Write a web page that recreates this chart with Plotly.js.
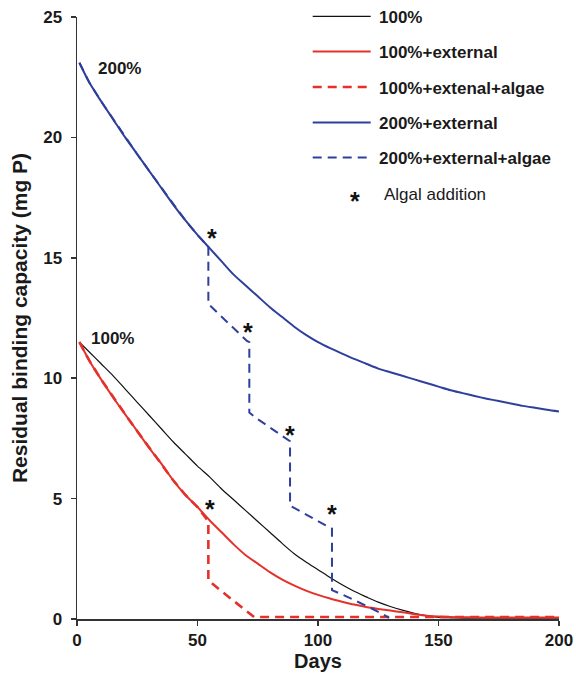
<!DOCTYPE html>
<html>
<head>
<meta charset="utf-8">
<script src="https://cdn.plot.ly/plotly-3.0.1.min.js"></script>
<style>html,body{margin:0;padding:0;background:#fff;}#chart{width:576px;height:676px;}</style>
</head>
<body>
<div id="chart"></div>
<script>
// ---- data ----
const dayGrid = [1,5,10,15,20,25,30,35,40,45,50,55,60,65,70,75,80,85,90,95,100,105,110,115,120,125,130,135,140,145,150,155,160,165,170,175,180,185,190,195,200];
const black100 = [11.5,11.1,10.6,10.1,9.55,9.0,8.45,7.9,7.35,6.85,6.35,5.9,5.4,4.95,4.5,4.05,3.6,3.15,2.72,2.37,2.05,1.72,1.42,1.15,0.92,0.7,0.52,0.37,0.24,0.14,0.07,0.05,0.04,0.04,0.04,0.04,0.04,0.04,0.04,0.04,0.04];
const red100ext = [11.5,10.75,9.95,9.2,8.5,7.8,7.1,6.45,5.75,5.15,4.65,4.1,3.6,3.1,2.65,2.3,1.95,1.65,1.4,1.18,1.0,0.85,0.72,0.6,0.5,0.42,0.35,0.28,0.2,0.14,0.1,0.08,0.07,0.07,0.06,0.06,0.06,0.06,0.06,0.06,0.06];
const blue200ext = [23.1,22.3,21.5,20.75,20.0,19.3,18.6,17.9,17.2,16.55,15.95,15.4,14.85,14.3,13.85,13.4,12.95,12.55,12.15,11.8,11.5,11.25,11.02,10.8,10.6,10.4,10.25,10.1,9.95,9.8,9.65,9.5,9.38,9.26,9.15,9.05,8.95,8.85,8.77,8.69,8.62];

const redAlgaeDays = [1,5,10,15,20,25,30,35,40,45,50,54.5,54.5,60,65,70,73.5,100,150,200];
const redAlgaeVals = [11.5,10.75,9.95,9.2,8.5,7.8,7.1,6.45,5.75,5.15,4.65,4.05,1.6,1.15,0.75,0.35,0.08,0.08,0.08,0.08];

const blueAlgaeDays = [1,5,10,15,20,25,30,35,40,45,50,54.5,54.5,60,65,70.5,71.5,71.5,75,80,85,88.4,88.4,93,98,103,105.8,105.8,110,115,120,125,129.5];
const blueAlgaeVals = [23.1,22.3,21.5,20.75,20.0,19.3,18.6,17.9,17.2,16.55,15.95,15.45,13.08,12.55,12.05,11.55,11.5,8.57,8.3,7.95,7.58,7.38,4.71,4.45,4.15,3.9,3.75,1.2,1.02,0.8,0.55,0.3,0.05];

const starDays = [55.9,70.8,88.4,105.7,55.2];
const starVals = [16.07,12.18,7.9,4.6,4.8];

const curveLabels = ['200%','100%'];
const curveLabelDays = [17.7,14.9];
const curveLabelVals = [22.88,11.66];

const legendNames = ['100%','100%+external','100%+extenal+algae','200%+external','200%+external+algae'];
const xTicks = [0,50,100,150,200];
const yTicks = [0,5,10,15,20,25];

// ---- styles ----
const FONT = 'Liberation Sans, Arial, Helvetica, sans-serif';
const BLUE = '#2e3f9c';
const RED = '#e4312b';
const styles = [
  {color:'#111111', width:1.2, dash:'solid'},
  {color:RED, width:2, dash:'solid'},
  {color:RED, width:2.6, dash:'9px,6px'},
  {color:BLUE, width:2, dash:'solid'},
  {color:BLUE, width:2, dash:'9px,6px'}
];

const traces = [
  {x:dayGrid, y:black100, name:legendNames[0], line:Object.assign({shape:'spline', smoothing:0.8}, styles[0])},
  {x:dayGrid, y:red100ext, name:legendNames[1], line:Object.assign({shape:'spline', smoothing:0.8}, styles[1])},
  {x:dayGrid, y:blue200ext, name:legendNames[3], line:Object.assign({shape:'spline', smoothing:0.8}, styles[3])},
  {x:redAlgaeDays, y:redAlgaeVals, name:legendNames[2], line:styles[2]},
  {x:blueAlgaeDays, y:blueAlgaeVals, name:legendNames[4], line:styles[4]}
].map(t => Object.assign({type:'scatter', mode:'lines', showlegend:false, hoverinfo:'skip'}, t));

// ---- geometry helpers for the hand-drawn legend (paper coords from pixels) ----
const W=576, H=676, ML=77.3, MR=16.7, MT=17.3, MB=57;
const px = v => (v-ML)/(W-ML-MR);
const py = v => (H-MB-v)/(H-MT-MB);

const annotations = [];
const shapes = [];
starDays.forEach((d,i) => annotations.push({x:d, y:starVals[i], xref:'x', yref:'y', text:'*', showarrow:false,
  font:{family:FONT, size:25, color:'#111', weight:'bold'}, xanchor:'center', yanchor:'middle', yshift:-6}));
curveLabels.forEach((t,i) => annotations.push({x:curveLabelDays[i], y:curveLabelVals[i], xref:'x', yref:'y', text:t, showarrow:false,
  font:{family:FONT, size:17, color:'#1a1a1a', weight:'bold'}, xanchor:'center', yanchor:'middle'}));

const rowY = [16.7, 51.7, 87.3, 122.7, 157.7];
const legendOrder = [0,1,2,3,4];
legendOrder.forEach((k,i) => {
  shapes.push({type:'line', xref:'paper', yref:'paper', x0:px(313), x1:px(371), y0:py(rowY[i]), y1:py(rowY[i]),
    line:{color:styles[k].color, width:styles[k].width, dash:styles[k].dash}});
  annotations.push({xref:'paper', yref:'paper', x:px(377), y:py(rowY[i]+1), text:legendNames[k], showarrow:false,
    xanchor:'left', yanchor:'middle', font:{family:FONT, size:17, color:'#1a1a1a', weight:'bold'}});
});
annotations.push({xref:'paper', yref:'paper', x:px(355), y:py(195), text:'*', showarrow:false, xanchor:'center', yanchor:'middle', yshift:-6,
  font:{family:FONT, size:25, color:'#111', weight:'bold'}});
annotations.push({xref:'paper', yref:'paper', x:px(382), y:py(195), text:'Algal addition', showarrow:false, xanchor:'left', yanchor:'middle',
  font:{family:FONT, size:17, color:'#1a1a1a'}});

const layout = {
  width:W, height:H,
  margin:{l:ML, r:MR, t:MT, b:MB, pad:0},
  paper_bgcolor:'#fff', plot_bgcolor:'#fff',
  font:{family:FONT, color:'#1a1a1a'},
  showlegend:false,
  xaxis:{range:[0,200], tickvals:xTicks, ticks:'outside', ticklen:5, tickwidth:1.5, tickcolor:'#333',
    showline:true, linecolor:'#333', linewidth:1.5, showgrid:false, zeroline:false, fixedrange:true,
    tickfont:{family:FONT, size:17, color:'#1a1a1a', weight:'bold'},
    title:{text:'Days', font:{family:FONT, size:20, color:'#1a1a1a', weight:'bold'}, standoff:4}},
  yaxis:{range:[0,25], tickvals:yTicks, ticks:'outside', ticklen:5, tickwidth:1.5, tickcolor:'#333',
    showline:true, linecolor:'#333', linewidth:1.5, showgrid:false, zeroline:false, fixedrange:true,
    ticklabelstandoff:5,
    tickfont:{family:FONT, size:17, color:'#1a1a1a', weight:'bold'},
    title:{text:'Residual binding capacity (mg P)', font:{family:FONT, size:21, color:'#1a1a1a', weight:'bold'}, standoff:10}},
  annotations:annotations,
  shapes:shapes
};

Plotly.newPlot('chart', traces, layout, {staticPlot:true, displayModeBar:false});
</script>
</body>
</html>
